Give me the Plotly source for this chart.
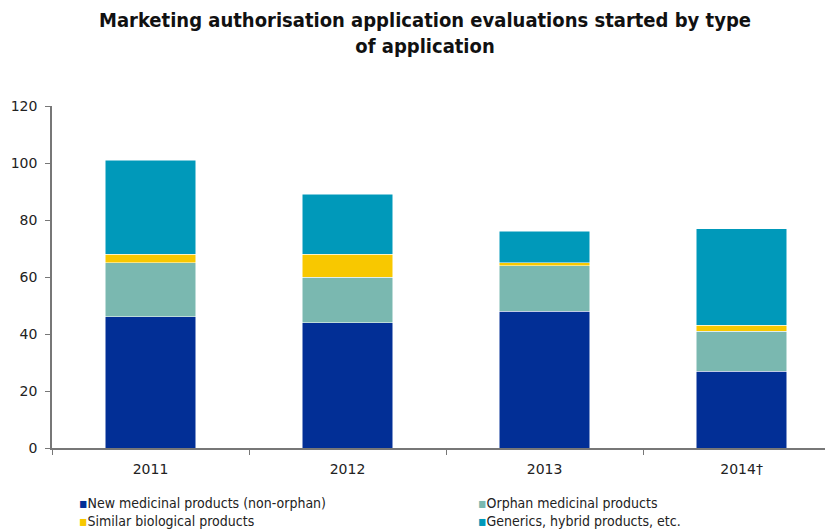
import plotly.graph_objects as go

years = ["2011", "2012", "2013", "2014\u2020"]
new_medicinal = [46, 44, 48, 27]
orphan = [19, 16, 16, 14]
similar_bio = [3, 8, 1, 2]
generics = [33, 21, 11, 34]

series_names = [
    "New medicinal products (non-orphan)",
    "Orphan medicinal products",
    "Similar biological products",
    "Generics, hybrid products, etc.",
]
series_values = [new_medicinal, orphan, similar_bio, generics]
series_colors = ["#022F96", "#7AB8B0", "#F8C800", "#0099BA"]

# page body has an 8px margin; work in screen pixels and convert
OFF = 8
SW, SH = 833, 529
W, H = SW - OFF, SH - OFF
L = 52 - OFF          # plot left edge (screen x=52)
T = 106 - OFF         # y=120 at screen y=106
B = SH - 448          # y=0 at screen y=448
R = 0
pw = W - L - R
ph = H - T - B

def sx(p):  # screen x -> paper x
    return (p - OFF - L) / pw

def sy(p):  # screen y -> paper y
    return (H - B - (p - OFF)) / ph

def cx(p):  # screen x -> container x
    return (p - OFF) / W

def cy(p):  # screen y -> container y
    return 1 - (p - OFF) / H

fig = go.Figure()
for name, vals, col in zip(series_names, series_values, series_colors):
    fig.add_trace(go.Bar(
        x=years, y=vals, name=name, marker_color=col,
        marker_line=dict(color="white", width=0.5), showlegend=False,
    ))

legend_font = dict(family="DejaVu Sans Condensed, DejaVu Sans", size=14, color="#222")
# legend grid: (column x of text start, row y centre) in screen px
legend_pos = [(79, 503), (478, 503), (79, 521), (478, 521)]
legend_keys = ["legend", "legend2", "legend3", "legend4"]
legend_layouts = {}
for name, col, key, (lx, ly) in zip(series_names, series_colors, legend_keys, legend_pos):
    fig.add_trace(go.Scatter(
        x=[None], y=[None], mode="markers",
        marker=dict(size=0.1, color="rgba(0,0,0,0)", opacity=0,
                    line=dict(width=0, color="rgba(0,0,0,0)")),
        name=f'<span style="color:{col}">\u25aa</span>{name}',
        legend=key, showlegend=True,
    ))
    legend_layouts[key] = dict(
        xref="container", yref="container",
        x=cx(lx - 40), y=cy(ly), xanchor="left", yanchor="middle",
        orientation="v", font=legend_font, itemwidth=30,
        bgcolor="rgba(0,0,0,0)",
    )

fig.update_layout(
    width=W, height=H,
    margin=dict(l=L, r=R, t=T, b=B, autoexpand=False),
    barmode="stack",
    bargap=0.54,
    plot_bgcolor="white", paper_bgcolor="white",
    font=dict(family="DejaVu Sans, Verdana", size=14, color="#222"),
    yaxis=dict(
        range=[0, 120], tickvals=[0, 20, 40, 60, 80, 100, 120],
        showgrid=False, showline=True, linecolor="#777", linewidth=1.5,
        ticks="outside", ticklen=5, tickcolor="#777", zeroline=False,
        tickfont=dict(size=14), ticklabelstandoff=5, automargin=False,
    ),
    xaxis=dict(
        range=[-0.5, 3.464],
        showline=True, linecolor="#777", linewidth=2,
        ticks="outside", ticklen=5, tickcolor="#777", tickson="boundaries",
        tickfont=dict(size=14), ticklabelstandoff=7, automargin=False,
    ),
    annotations=[dict(
        text="<b>Marketing authorisation application evaluations started by type<br>of application</b>",
        xref="paper", yref="paper", x=sx(425), y=sy(32.5),
        xanchor="center", yanchor="middle", showarrow=False, align="center",
        font=dict(family="DejaVu Sans Condensed, DejaVu Sans", size=20, color="#111"),
    )],
    **legend_layouts,
)

fig.write_html("out.html")
